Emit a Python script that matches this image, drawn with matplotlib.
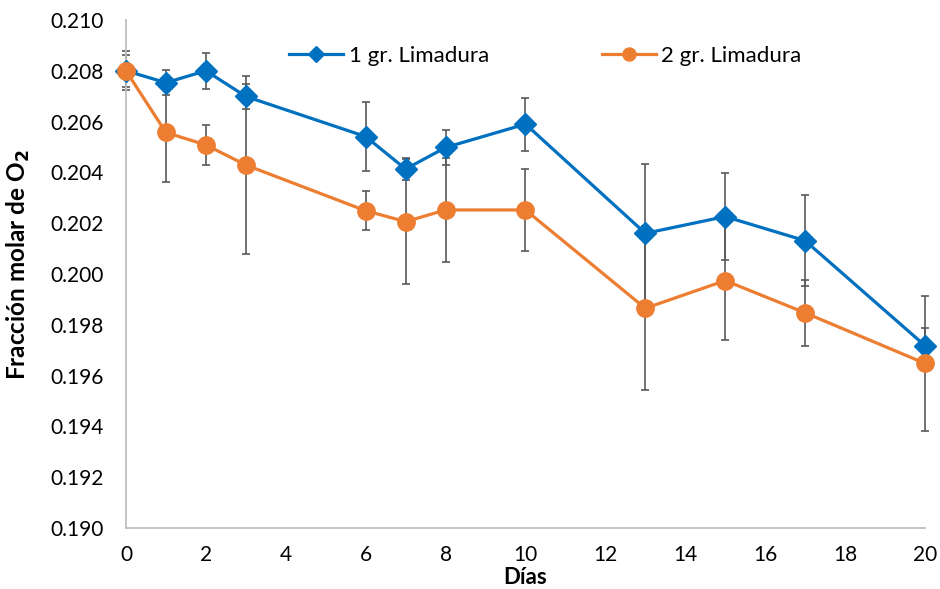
import matplotlib
matplotlib.use("Agg")
import matplotlib.pyplot as plt
from matplotlib.ticker import FormatStrFormatter

dias = [0, 1, 2, 3, 6, 7, 8, 10, 13, 15, 17, 20]

# 1 gr. Limadura
o2_1g = [0.2080, 0.20753, 0.2080, 0.20699, 0.20541, 0.20413, 0.20498, 0.20590,
         0.20160, 0.20226, 0.20131, 0.19718]
err_1g = [0.00076, 0.00049, 0.00071, 0.00049, 0.00135, 0.00042, 0.00068, 0.00104,
          0.00273, 0.00172, 0.00180, 0.00071]

# 2 gr. Limadura
o2_2g = [0.2080, 0.20557, 0.20508, 0.20429, 0.20249, 0.20206, 0.20252, 0.20252,
         0.19865, 0.19974, 0.19847, 0.19648]
err_2g = [0.00063, 0.00194, 0.00078, 0.00351, 0.00077, 0.00245, 0.00206, 0.00162,
          0.00322, 0.00234, 0.00130, 0.00265]

x_ticks = list(range(0, 21, 2))
y_ticks = [0.190, 0.192, 0.194, 0.196, 0.198, 0.200, 0.202, 0.204, 0.206, 0.208, 0.210]

plt.rcParams['font.family'] = ['Lato', 'DejaVu Sans']

fig = plt.figure(figsize=(9.4, 5.89), dpi=100)
ax = fig.add_axes([0.134, 0.1036, 0.850, 0.8625])

blue = '#0070C0'
orange = '#ED7D31'
grey = '#595959'

ax.errorbar(dias, o2_1g, yerr=err_1g, fmt='none', ecolor=grey, elinewidth=1.2,
            capsize=3, capthick=1.2, zorder=1, clip_on=False)
ax.errorbar(dias, o2_2g, yerr=err_2g, fmt='none', ecolor=grey, elinewidth=1.2,
            capsize=3, capthick=1.2, zorder=1, clip_on=False)
ax.plot(dias, o2_1g, color=blue, lw=2.3, marker='D', ms=11, label='1 gr. Limadura',
        zorder=3, clip_on=False)
ax.plot(dias, o2_2g, color=orange, lw=2.3, marker='o', ms=12.5, label='2 gr. Limadura',
        zorder=4, clip_on=False)

ax.set_xlim(0, 20)
ax.set_ylim(0.190, 0.210)
ax.set_xticks(x_ticks)
ax.set_yticks(y_ticks)
ax.yaxis.set_major_formatter(FormatStrFormatter('%.3f'))
ax.tick_params(axis='both', length=0, labelsize=15, colors='#000000')
ax.tick_params(axis='x', pad=12)
ax.tick_params(axis='y', pad=16)

for side in ['top', 'right']:
    ax.spines[side].set_visible(False)
for side in ['left', 'bottom']:
    ax.spines[side].set_color('#BFBFBF')
    ax.spines[side].set_linewidth(1.3)

ax.set_xlabel('Días', fontsize=16, fontweight='bold')
ax.xaxis.set_label_coords(0.5, -0.076)
ax.set_ylabel('Fracción molar de O$_\\mathbf{2}$', fontsize=17.5, fontweight='bold')
ax.yaxis.set_label_coords(-0.117, 0.518)

leg = ax.legend(loc='center', bbox_to_anchor=(0.525, 0.93), ncol=2, frameon=False,
                fontsize=16, handlelength=2.43, columnspacing=5.1, handletextpad=0.23,
                markerscale=0.75)

fig.savefig('out.png', dpi=100)
